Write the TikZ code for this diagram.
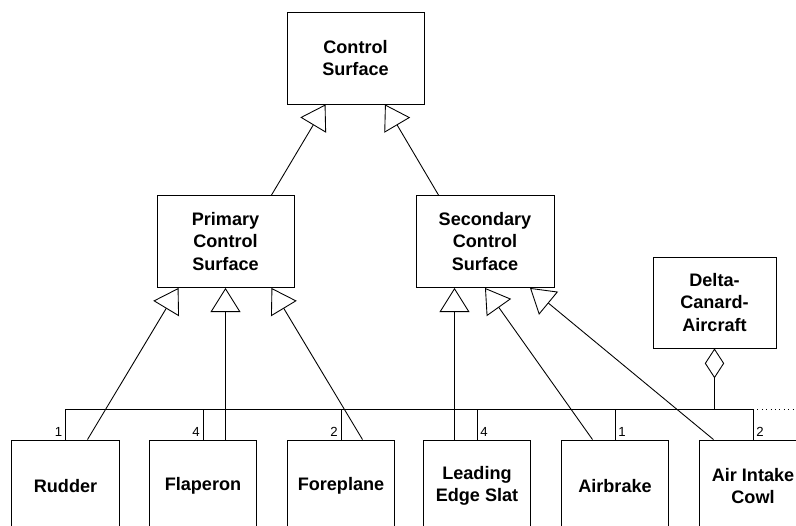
\documentclass[tikz,border=0pt]{standalone}
\usepackage{fontspec}
\setmainfont{Liberation Sans}
\usetikzlibrary{arrows.meta}

\tikzset{
	cls/.style={draw, align=center, font=\bfseries\fontsize{10.3}{12.8}\selectfont, minimum height=1.84cm, inner sep=2pt},
	gen/.style={-{Triangle[open,length=13.7pt,width=17pt]}},
	agg/.style={-{Diamond[open,length=17pt,width=11pt]}},
	mult/.style={font=\fontsize{7.5}{9}\selectfont, inner sep=1.6pt},
}

\begin{document}
\begin{tikzpicture}[line width=0.5pt]
	\useasboundingbox (0,0) rectangle (15.92,10.52);
	\clip (0,0) rectangle (15.92,10.52);

	% classes
	\node[cls, minimum width=2.74cm] (control) at (7.11,9.36) {Control\\Surface};
	\node[cls, minimum width=2.74cm] (primary) at (4.51,5.69) {Primary\\Control\\Surface};
	\node[cls, minimum width=2.76cm] (secondary) at (9.70,5.69) {Secondary\\Control\\Surface};
	\node[cls, minimum width=2.46cm, minimum height=1.82cm] (aircraft) at (14.29,4.47) {Delta-\\Canard-\\Aircraft};

	\node[cls, minimum width=2.15cm] (rudder) at (1.31,0.80) {Rudder};
	\node[cls, minimum width=2.15cm] (flaperon) at (4.06,0.80) {Flaperon};
	\node[cls, minimum width=2.15cm] (foreplane) at (6.82,0.80) {Foreplane};
	\node[cls, minimum width=2.15cm] (slat) at (9.54,0.80) {Leading\\Edge Slat};
	\node[cls, minimum width=2.15cm] (airbrake) at (12.30,0.80) {Airbrake};
	\node[cls, minimum width=2.15cm] (cowl) at (15.06,0.80) {Air Intake\\Cowl};

	% inheritance
	\draw[gen] ([xshift=0.92cm]primary.north) -- ([xshift=-0.60cm]control.south);
	\draw[gen] ([xshift=-0.93cm]secondary.north) -- ([xshift=0.59cm]control.south);

	\draw[gen] ([xshift=0.44cm]rudder.north) -- ([xshift=-0.94cm]primary.south);
	\draw[gen] ([xshift=0.45cm]flaperon.north) -- (primary.south);
	\draw[gen] ([xshift=0.43cm]foreplane.north) -- ([xshift=0.92cm]primary.south);

	\draw[gen] ([xshift=-0.45cm]slat.north) -- ([xshift=-0.61cm]secondary.south);
	\draw[gen] ([xshift=-0.45cm]airbrake.north) -- (secondary.south);
	\draw[gen] ([xshift=-0.79cm]cowl.north) -- ([xshift=0.90cm]secondary.south);

	% aggregation bus
	\coordinate (bus) at (0,2.34);
	\draw (rudder.north) node[mult, above left] {1} -- (rudder.north |- bus) -- (cowl.north |- bus) -- (cowl.north) node[mult, above right] {2};
	\draw (flaperon.north) node[mult, above left] {4} -- (flaperon.north |- bus);
	\draw (foreplane.north) node[mult, above left] {2} -- (foreplane.north |- bus);
	\draw (slat.north) node[mult, above right] {4} -- (slat.north |- bus);
	\draw (airbrake.north) node[mult, above right] {1} -- (airbrake.north |- bus);
	\draw[dotted] (cowl.north |- bus) -- ++(0.86,0);

	\draw[agg] (aircraft.south |- bus) -- (aircraft.south);
\end{tikzpicture}
\end{document}
